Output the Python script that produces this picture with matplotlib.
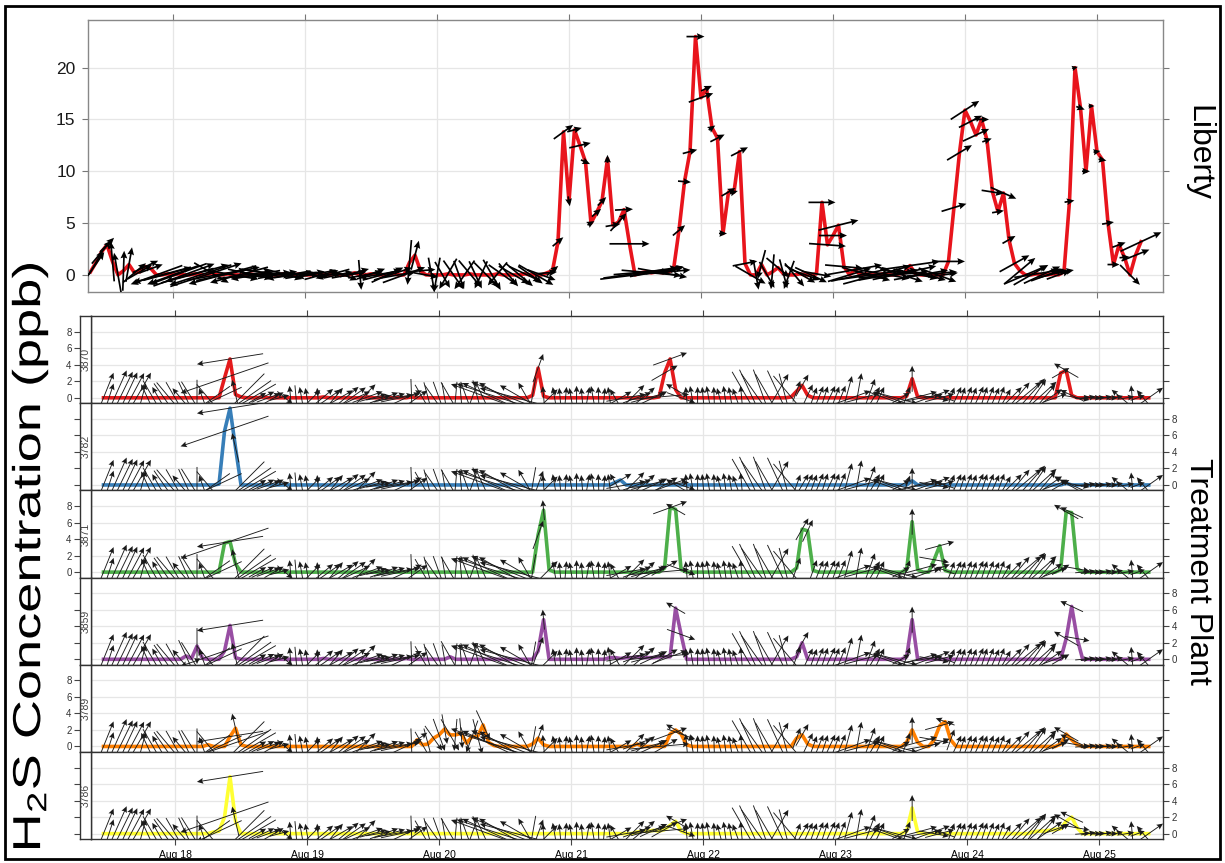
import numpy as np
import matplotlib
matplotlib.use('Agg')
from matplotlib import pyplot as plt
from matplotlib.patches import Rectangle, PathPatch
from matplotlib.textpath import TextPath
from matplotlib.font_manager import FontProperties
from matplotlib.transforms import Affine2D

plt.rcParams['font.family'] = ['Liberation Sans', 'DejaVu Sans']
plt.rcParams['mathtext.fontset'] = 'custom'
plt.rcParams['mathtext.rm'] = 'Liberation Sans'
plt.rcParams['mathtext.it'] = 'Liberation Sans:italic'

W, H = 1225, 863

# hourly records, hour 0 = Aug 17 00:00
day_labels = ['Aug 18', 'Aug 19', 'Aug 20', 'Aug 21', 'Aug 22', 'Aug 23', 'Aug 24', 'Aug 25']

# ---- Liberty monitor (first hour = 9) ----
lib_first_hour = 9
lib_h2s = [0.3, 1.2, 2.2, 2.9, 1.3, 0.0, 0.4, 1.0, 0.2, 0.3, 0.8, 0.6, 0.0, 0.0, 0.1,
           0.0, 0.1, 0.0, 0.0, 0.1, 0.0, 0.0, 0.2, 0.0, 0.0, 0.1, 0.0, 0.0, 0.0, 0.1, 0.0, 0.0, 0.2, 0.0, 0.0, 0.1, 0.0, 0.0, 0.1,
           0.0, 0.0, 0.1, 0.0, 0.0, 0.1, 0.0, 0.0, 0.0, 0.2, 0.0, 0.0, 0.1, 0.0, 0.0, 0.0, 0.1, 0.0, 0.0, 1.2, 1.9, 0.4, 0.0, 0.0,
           0.0, 0.0, 0.1, 0.0, 0.0, 0.0, 0.1, 0.0, 0.0, 0.0, 0.0, 0.1, 0.0, 0.0, 0.0, 0.0, 0.1, 0.0, 0.0, 0.0, 0.2, 0.4, 3.2, 13.8,
           7.1, 14.0, 12.5, 10.9, 5.0, 6.0, 7.1, 11.2, 4.8, 5.1, 6.3, 3.0, 0.0, 0.2, 0.3, 0.2, 0.3, 0.2, 0.3, 0.5, 4.3, 9.0, 11.9, 23.0,
           17.1, 18.0, 14.2, 13.2, 4.0, 8.0, 8.0, 11.9, 1.1, 0.0, 0.0, 1.0, 0.0, 0.3, 0.7, 0.1, 0.0, 0.0, 0.1, 0.0, 0.0, 0.1, 7.0, 2.9,
           3.8, 4.8, 0.8, 0.0, 0.5, 0.0, 0.1, 0.0, 0.0, 0.1, 0.0, 0.0, 0.1, 0.2, 0.9, 0.1, 0.0, 0.0, 0.1, 0.0, 0.0, 1.3, 6.5, 11.8,
           15.9, 14.8, 13.5, 15.0, 13.0, 8.0, 6.1, 7.9, 3.4, 1.1, 0.4, 0.0, 0.0, 0.1, 0.0, 0.0, 0.1, 0.0, 0.3, 7.1, 20.0, 16.1, 10.0, 16.3,
           11.9, 11.1, 5.0, 1.0, 2.9, 1.7, 0.0, 1.9, 3.2]
# direction the wind blows toward (deg, counter-clockwise from east) and speed
lib_dir = [55, 60, 50, 45, 95, 100, 88, 80, 40, 30, 25, 20, 200, 195, 15,
           200, 200, 20, 195, 15, 198, 18, -30, 10, 195, 12, -10, 195, 8, -12, 190, 5, -8, 185, 10, -15, 190, 8, 185,
           10, -5, 190, 15, 5, 195, 12, -20, 10, 15, -85, 10, 20, 190, 15, 25, 18, 10, 20, -95, 75, 5, -10, -80,
           -100, -60, -120, -55, -70, -125, -50, -65, -115, -45, -60, -130, -35, -50, -30, -40, -25, -35, -30, -20, 5, 40, 40, 36,
           -80, 15, 13, -25, 30, 40, 45, 90, 10, 48, 3, 0, 7, 8, 5, -5, 10, -10, 5, 20, 40, -5, 15, 0,
           20, 25, 35, 27, 0, 30, 15, 27, 11, -30, -80, -105, -60, -95, -40, -75, -110, -50, -30, -20, -25, -10, 0, -4,
           0, 14, -5, 17, 10, 12, -15, 8, 15, -10, 10, 5, -18, 12, 8, -12, 10, -15, 5, -20, 8, 0, 17, 31,
           33, 27, 25, 0, 20, -9, 10, -24, 30, 29, 40, 23, 30, 9, 25, 20, 15, 20, 10, 10, 15, -20, 0, 0,
           10, -10, 10, 0, 20, 5, -45, 22, 25]
lib_ws = [4.8, 2.8, 3.0, 2.0, 4.0, 4.5, 4.0, 3.5, 3.0, 2.8, 2.8, 2.5, 5.5, 6.0, 5.0,
          5.5, 6.0, 6.5, 5.0, 7.0, 6.5, 7.5, 4.0, 6.0, 7.0, 6.5, 5.0, 6.0, 5.5, 4.5, 5.0, 6.0, 5.0, 4.5, 4.0, 4.0, 4.5, 4.0, 3.5,
          4.0, 3.5, 4.0, 3.5, 3.0, 3.5, 3.0, 3.0, 3.5, 3.0, 3.0, 3.5, 3.0, 3.5, 4.0, 3.5, 4.0, 3.5, 4.5, 4.5, 3.0, 3.0, 2.5, 3.5,
          3.5, 3.0, 3.5, 3.5, 3.0, 3.5, 3.5, 3.0, 3.0, 3.5, 3.5, 3.0, 3.5, 3.0, 3.5, 3.5, 3.5, 3.0, 4.0, 3.0, 2.0, 1.5, 1.4, 2.4,
          1.0, 1.5, 2.2, 1.0, 0.8, 1.2, 1.2, 0.8, 1.5, 2.4, 1.8, 4.0, 7.0, 7.5, 6.5, 6.0, 5.5, 5.0, 4.5, 2.0, 1.6, 1.3, 1.5, 1.8,
          2.6, 1.2, 0.8, 1.6, 0.8, 1.6, 0.8, 1.9, 2.5, 3.5, 3.0, 3.0, 3.0, 3.5, 3.0, 3.0, 3.0, 3.0, 3.5, 3.0, 3.5, 3.0, 2.7, 3.7,
          2.8, 4.1, 3.8, 4.5, 5.5, 6.0, 5.0, 6.5, 7.0, 5.5, 6.0, 7.0, 5.0, 6.5, 6.0, 4.5, 5.5, 4.0, 5.0, 4.0, 3.0, 3.3, 2.6, 2.9,
          3.4, 2.6, 2.9, 1.5, 1.0, 2.2, 1.2, 2.8, 1.5, 3.4, 4.0, 4.7, 4.0, 4.5, 4.0, 3.5, 3.0, 2.5, 2.0, 1.0, 0.6, 0.9, 0.8, 0.6,
          0.7, 0.8, 1.2, 1.2, 1.4, 1.0, 2.8, 3.0, 4.5]

# ---- Treatment plant monitors (first hour = 11), one shared wind record ----
tp_first_hour = 11
tp_dir = [68, 72, 66, 64, 65, 62, 60, 75, 115, -60, 120, -55, -50,
          -60, 130, -65, -58, -90, 110, -50, 215, 205, 199, 189, 103, 225, 215, 210, 30, 25, 20, 30, 15, -40, 95, -85, 100,
          100, 45, 95, 40, 35, 50, 30, 40, 35, 25, 45, 20, 15, 10, 20, 15, 10, 12, 25, -88, 35, -60, -75, -55,
          -70, -80, -60, -95, -85, -70, -110, -75, -65, 160, 155, 162, 150, 158, 165, 150, 120, -100, 70, 95, 45, 100, 95, 85,
          100, 90, 95, 80, 100, 92, 85, 98, 120, 30, 10, 45, 20, 40, 15, 25, 5, 30, 20, 150, -20, 95, 100, 90,
          95, 100, 92, 105, 98, 100, 110, 95, -60, -65, -55, -70, -60, 60, -65, -75, -50, 70, 60, 65, 70, 68, 72, 65,
          70, 68, 75, 20, 80, 15, 70, 60, 65, -20, 160, -15, 30, 70, 90, 15, 10, 20, -10, 15, 160, 70, 65, 72,
          68, 70, 65, 72, 68, 66, 70, 60, 45, 50, 40, 48, 55, 42, 50, 35, 20, 30, 150, 155, -10, 5, 10, 0,
          5, 10, 0, 15, 140, 10, 95, 20, 130, 35]
tp_ws = [5.4, 3.0, 6.0, 5.8, 5.6, 5.6, 5.8, 3.0, 3.0, 4.0, 2.5, 3.5, 4.0,
         3.6, 2.5, 3.5, 3.8, 3.6, 2.0, 3.5, 4.0, 5.0, 9.3, 6.7, 3.0, 6.6, 6.0, 5.5, 2.0, 2.5, 2.5, 2.2, 2.0, 2.0, 2.4, 2.5, 2.2,
         2.0, 2.2, 2.0, 2.5, 2.8, 2.6, 3.0, 3.4, 3.6, 3.0, 3.8, 3.2, 2.8, 2.5, 3.0, 3.2, 3.6, 4.0, 3.5, 3.6, 2.5, 3.0, 3.2, 3.0,
         3.4, 3.0, 3.6, 3.2, 3.0, 3.4, 3.4, 3.6, 3.2, 8.0, 7.0, 9.0, 6.0, 8.5, 7.5, 5.0, 3.5, 3.6, 3.0, 2.0, 2.4, 2.2, 2.0, 2.2,
         2.0, 2.4, 2.0, 2.2, 2.4, 2.2, 2.0, 2.2, 2.0, 2.5, 4.0, 3.6, 3.0, 3.2, 3.5, 3.0, 6.0, 3.0, 3.6, 2.2, 3.0, 2.2, 2.4, 2.2,
         2.2, 2.4, 2.2, 2.0, 2.4, 2.2, 2.0, 2.4, 6.0, 6.2, 5.8, 6.0, 5.5, 5.5, 6.0, 5.0, 5.5, 2.2, 2.5, 2.4, 2.2, 2.5, 2.4, 2.6,
         2.4, 2.6, 4.5, 4.0, 5.0, 3.5, 4.0, 2.5, 2.4, 4.0, 3.5, 4.5, 2.0, 2.0, 2.6, 4.0, 3.5, 4.5, 3.0, 3.0, 2.0, 2.2, 2.4, 2.2,
         2.4, 2.2, 2.5, 2.3, 2.4, 2.2, 2.4, 2.0, 3.0, 4.0, 5.0, 5.2, 4.5, 4.8, 3.5, 3.0, 2.5, 2.0, 2.8, 2.5, 2.5, 1.5, 1.5, 1.5,
         1.2, 1.5, 1.5, 1.5, 2.5, 1.5, 2.5, 1.5, 2.0, 3.5]

h2s_3870 = [0, 0, 0, 0, 0, 0, 0, 0, 0, 0, 0, 0, 0,
            0, 0, 0, 0, 0, 0, 0, 0, 0, 2.4, 4.7, 0.4, 0.1, 0, 0, 0, 0.1, 0, 0, 0, 0, 0, 0, 0,
            0, 0, 0, 0.1, 0, 0, 0, 0, 0, 0, 0, 0.1, 0, 0, 0, 0, 0, 0, 0, 0.1, 0, 0, 0, 0,
            0, 0, 0, 0, 0, 0, 0, 0, 0, 0, 0, 0, 0, 0, 0, 0, 0, 0.3, 3.6, 0.2, 0, 0, 0, 0,
            0, 0, 0, 0, 0, 0, 0, 0, 0, 0, 0, 0, 0, 0, 0, 0, 0.1, 3.0, 4.7, 1.0, 0, 0, 0, 0,
            0, 0, 0, 0, 0, 0, 0, 0, 0, 0, 0, 0, 0, 0, 0, 0, 0.1, 0.8, 1.5, 0.3, 0, 0, 0, 0,
            0, 0, 0, 0, 0, 0, 0, 0, 0, 0, 0, 0, 0, 0.2, 2.3, 0.1, 0, 0, 0, 0, 0, 0, 0, 0,
            0, 0, 0, 0, 0, 0, 0, 0, 0, 0, 0, 0, 0, 0, 0, 0, 0, 3.0, 3.3, 0.3, 0, 0, 0, 0,
            0, 0, 0, 0, 0, 0, 0, 0, 0, 0]
h2s_3782 = [0, 0, 0, 0, 0, 0, 0, 0, 0, 0, 0, 0, 0,
            0, 0, 0, 0, 0, 0, 0, 0, 0.1, 6.5, 9.3, 4.5, 0, 0, 0, 0, 0, 0, 0, 0, 0, 0, 0, 0,
            0, 0, 0, 0, 0, 0, 0, 0, 0, 0, 0, 0, 0, 0, 0, 0, 0, 0, 0, 0, 0, 0, 0, 0,
            0, 0, 0, 0, 0, 0, 0, 0, 0, 0, 0, 0, 0, 0, 0, 0, 0, 0, 0, 0, 0, 0, 0, 0,
            0, 0, 0, 0, 0, 0, 0, 0, 0.3, 0.6, 0, 0, 0, 0, 0, 0, 0, 0, 0, 0, 0, 0, 0, 0,
            0, 0, 0, 0, 0, 0, 0, 0, 0, 0, 0, 0, 0, 0, 0, 0, 0, 0, 0, 0, 0, 0, 0, 0,
            0, 0, 0, 0, 0, 0, 0, 0, 0, 0, 0, 0, 0, 0, 0.5, 0, 0, 0, 0, 0, 0, 0, 0, 0,
            0, 0, 0, 0, 0, 0, 0, 0, 0, 0, 0, 0, 0, 0, 0, 0, 0, 0, 0.2, 0, 0, 0, 0, 0,
            0, 0, 0, 0, 0, 0, 0, 0, 0, 0]
h2s_3871 = [0, 0, 0, 0, 0, 0, 0, 0, 0, 0, 0, 0, 0,
            0, 0, 0, 0, 0, 0, 0, 0, 0, 3.5, 3.7, 1.0, 0, 0, 0, 0, 0, 0, 0, 0, 0, 0, 0, 0,
            0, 0, 0, 0, 0, 0, 0, 0, 0, 0, 0, 0, 0, 0, 0, 0, 0, 0, 0, 0, 0, 0, 0, 0,
            0, 0, 0, 0, 0, 0, 0, 0, 0, 0, 0, 0, 0, 0, 0, 0, 0, 0, 4.5, 7.5, 0.3, 0, 0, 0,
            0, 0, 0, 0, 0, 0, 0, 0, 0, 0, 0, 0, 0, 0, 0, 0, 0, 0.5, 7.8, 7.6, 0.3, 0, 0, 0,
            0, 0, 0, 0, 0, 0, 0, 0, 0, 0, 0, 0, 0, 0, 0, 0, 0, 0.5, 5.2, 5.0, 0.2, 0, 0, 0,
            0, 0, 0, 0, 0, 0, 0, 0, 0, 0, 0, 0, 0, 0.3, 6.1, 0.3, 0, 0, 1.5, 3.2, 0.2, 0, 0, 0,
            0, 0, 0, 0, 0, 0, 0, 0, 0, 0, 0, 0, 0, 0, 0, 0, 0, 0.3, 7.3, 7.2, 0.4, 0, 0, 0,
            0, 0, 0, 0, 0, 0, 0, 0, 0, 0]
h2s_3859 = [0, 0, 0, 0, 0, 0, 0, 0, 0, 0, 0, 0, 0,
            0, 0, 0.4, 0.1, 1.6, 0.1, 0, 0, 0, 1.0, 4.1, 0.2, 0, 0, 0, 0, 0, 0, 0, 0, 0, 0, 0, 0,
            0, 0, 0, 0.1, 0, 0, 0, 0, 0, 0, 0.1, 0, 0, 0, 0, 0, 0, 0, 0.1, 0, 0, 0, 0, 0,
            0, 0, 0.3, 0, 0, 0, 0, 0, 0, 0, 0, 0, 0, 0, 0, 0, 0, 0, 1.0, 4.8, 0, 0, 0, 0,
            0, 0, 0, 0, 0, 0, 0, 0.2, 0.2, 0.1, 0.2, 0.2, 0.3, 0.2, 0.2, 0.2, 0.3, 0.3, 0.3, 6.2, 3.0, 0, 0, 0,
            0, 0, 0, 0, 0, 0, 0, 0, 0, 0, 0, 0, 0, 0, 0, 0, 0, 0.3, 2.0, 0, 0, 0, 0, 0,
            0, 0, 0, 0, 0, 0, 0, 0, 0, 0, 0, 0, 0, 0.3, 4.8, 0, 0, 0, 0, 0, 0, 0, 0, 0,
            0, 0, 0, 0, 0, 0, 0, 0, 0, 0, 0, 0, 0, 0, 0, 0, 0, 0, 2.5, 6.4, 2.5, 0, 0, 0,
            0, 0, 0, 0, 0, 0, 0, 0, 0, 0]
h2s_3789 = [0, 0, 0, 0, 0, 0, 0, 0, 0, 0, 0, 0, 0,
            0, 0, 0, 0, 0, 0, 0.2, 0, 0, 0, 1.2, 2.2, 0.2, 0, 0, 0, 0, 0, 0, 0, 0, 0, 0, 0,
            0, 0, 0, 0, 0, 0, 0, 0, 0, 0, 0, 0, 0, 0, 0, 0, 0, 0, 0, 0, 0.8, 0.2, 0.3, 1.0,
            1.4, 2.1, 1.4, 1.4, 1.6, 0.4, 1.2, 1.2, 2.6, 0.5, 0.1, 0, 0, 0, 0, 0, 0, 0.3, 1.0, 0.2, 0, 0, 0, 0,
            0, 0, 0, 0, 0, 0, 0, 0, 0, 0, 0, 0, 0.3, 0, 0, 0, 0, 0, 1.5, 2.0, 1.5, 0.2, 0, 0,
            0, 0, 0, 0, 0, 0, 0, 0, 0, 0, 0, 0, 0, 0, 0, 0, 0, 1.0, 1.4, 0.3, 0, 0, 0, 0,
            0, 0, 0, 0, 0, 0, 0, 0, 0, 0, 0, 0, 0, 0.5, 2.0, 0.5, 0, 0, 0.8, 2.5, 3.0, 0.8, 0, 0,
            0, 0, 0, 0, 0, 0, 0, 0, 0, 0, 0, 0, 0, 0, 0, 0, 0, 0.3, 1.5, 0.8, 0.2, 0, 0, 0,
            0, 0, 0, 0, 0, 0, 0, 0, 0, 0]
h2s_3786 = [0, 0, 0, 0, 0, 0, 0, 0, 0, 0, 0, 0, 0,
            0, 0, 0, 0, 0, 0, 0, 0.2, 0.3, 2.0, 6.9, 1.5, 0, 0, 0, 0, 0, 0, 0, 0, 0, 0, 0, 0,
            0, 0, 0, 0, 0, 0, 0, 0, 0, 0, 0, 0, 0, 0, 0, 0, 0, 0, 0, 0, 0, 0, 0, 0,
            0, 0, 0, 0, 0, 0, 0, 0, 0, 0, 0, 0, 0, 0, 0, 0, 0, 0, 0, 0, 0, 0, 0, 0,
            0, 0, 0, 0, 0, 0, 0, 0, 0, 0, 0, 0, 0.2, 0.3, 0.3, 0.4, 0.3, 0.5, 1.0, 1.5, 0.3, 0, 0, 0,
            0, 0, 0, 0, 0, 0, 0, 0, 0, 0, 0, 0, 0, 0, 0, 0, 0, 0, 0, 0, 0, 0, 0, 0,
            0, 0, 0, 0, 0, 0, 0, 0, 0, 0, 0, 0, 0, 0.3, 3.1, 0.2, 0, 0, 0, 0, 0, 0, 0, 0,
            0, 0, 0, 0, 0, 0, 0, 0, 0, 0, 0, 0, 0.2, 0.3, 0.3, 0.4, 0.5, 0.6, 1.5, 2.0, 0.7, 0, 0, 0,
            0, 0, 0, 0, 0, 0, 0, 0, 0, 0]

site_ids = ['3870', '3782', '3871', '3859', '3789', '3786']
site_h2s = [h2s_3870, h2s_3782, h2s_3871, h2s_3859, h2s_3789, h2s_3786]
site_colors = ['#E41A1C', '#377EB8', '#4DAF4A', '#984EA3', '#FF7F00', '#FFFF33']


def box(x0, y0, x1, y1):
    # pixel box (top-left origin) -> figure fraction rect
    return [x0 / W, 1 - y1 / H, (x1 - x0) / W, (y1 - y0) / H]


def wind_uv(direction, speed):
    a = np.radians(np.asarray(direction, dtype=float))
    s = np.asarray(speed, dtype=float)
    return s * np.cos(a), s * np.sin(a)


def stretched_label(fig, text, cx, cy, size_px, length_px, angle):
    # text drawn as a path so it can be stretched along its baseline like the original slide
    path = TextPath((0, 0), text, size=size_px, prop=FontProperties(family='Liberation Sans'))
    bb = path.get_extents()
    tr = (Affine2D().translate(-(bb.x0 + bb.width / 2), -(bb.y0 + bb.height / 2))
          .scale(length_px / bb.width, 1.0).rotate_deg(angle).translate(cx, H - cy))
    fig.add_artist(PathPatch(path, transform=tr, fc='black', ec='none'))


day_ticks = [24 * (i + 1) for i in range(len(day_labels))]
PX_PER_MS = 10.0  # arrow length, pixels per m/s
grid_c = '#E6E6E6'

fig = plt.figure(figsize=(W / 100, H / 100), dpi=100)

# ---------------- Liberty ----------------
ax = fig.add_axes(box(88, 20, 1163, 292))
lib_t = lib_first_hour + np.arange(len(lib_h2s))
ax.plot(lib_t, lib_h2s, color='#E8141C', lw=2.6, zorder=2)
u, v = wind_uv(lib_dir, lib_ws)
ax.quiver(lib_t, lib_h2s, u, v, angles='uv', pivot='middle', scale_units='dots',
          scale=1 / PX_PER_MS, units='dots', width=1.7, headwidth=4, headlength=4.5,
          headaxislength=4, color='black', zorder=3)
ax.set_xlim(8.55, 204)
ax.set_ylim(-1.65, 24.6)
ax.set_xticks(day_ticks)
ax.set_xticklabels([])
ax.set_yticks([0, 5, 10, 15, 20])
ax.tick_params(axis='x', top=True, bottom=True, direction='out', length=4, color='#777777')
ax.tick_params(axis='y', left=True, right=True, labelleft=True, direction='out', length=4,
               color='#777777', labelsize=12.5, labelcolor='#1a1a1a', pad=5)
ax.grid(True, color=grid_c, lw=0.9)
ax.set_axisbelow(True)
for s in ax.spines.values():
    s.set_color('#888888')
    s.set_linewidth(1.0)

# ---------------- Treatment plant ----------------
tp_t = tp_first_hour + np.arange(len(tp_dir))
tu, tv = wind_uv(tp_dir, tp_ws)
panel_top, panel_h = 316, (839 - 316) / 6
for i, (sid, vals, col) in enumerate(zip(site_ids, site_h2s, site_colors)):
    y0 = panel_top + i * panel_h
    y1 = y0 + panel_h
    pax = fig.add_axes(box(91, y0, 1163, y1))
    pax.plot(tp_t, vals, color=col, lw=2.6, zorder=2)
    pax.quiver(tp_t, vals, tu, tv, angles='uv', pivot='middle', scale_units='dots',
               scale=1 / PX_PER_MS, units='dots', width=0.9, headwidth=6.5, headlength=7,
               headaxislength=6, color='#1a1a1a', zorder=3)
    pax.set_xlim(8.73, 203.6)
    pax.set_ylim(-0.65, 9.9)
    pax.set_xticks(day_ticks)
    pax.set_yticks([0, 2, 4, 6, 8])
    pax.tick_params(axis='x', top=(i == 0), bottom=(i == 5), labelbottom=(i == 5),
                    direction='out', length=4, color='#444444', labelsize=7.5, pad=4)
    if i == 5:
        pax.set_xticklabels(day_labels)
    pax.tick_params(axis='y', left=False, right=True, labelleft=False, labelright=(i % 2 == 1),
                    direction='out', length=4, color='#444444', labelsize=7, labelcolor='#333333', pad=2)
    pax.grid(True, color=grid_c, lw=0.9)
    pax.set_axisbelow(True)
    for s in pax.spines.values():
        s.set_color('#333333')
        s.set_linewidth(1.0)

    sax = fig.add_axes(box(80, y0, 91, y1))
    sax.set_xlim(0, 1)
    sax.set_ylim(-0.65, 9.9)
    sax.set_xticks([])
    sax.set_yticks([0, 2, 4, 6, 8])
    sax.tick_params(axis='y', left=True, labelleft=(i % 2 == 0), direction='out', length=4,
                    color='#444444', labelsize=7, labelcolor='#333333', pad=2)
    sax.text(0.5, 0.5, sid, rotation=90, ha='center', va='center', fontsize=7.5,
             color='#444444', transform=sax.transAxes)
    for s in sax.spines.values():
        s.set_color('#333333')
        s.set_linewidth(1.0)

# titles
stretched_label(fig, 'H$_2$S Concentration (ppb)', 30, 556, 39, 584, 90)
fig.text(1198 / W, 1 - 153 / H, 'Liberty', rotation=-90, ha='center', va='center', fontsize=23)
fig.text(1198 / W, 1 - 571 / H, 'Treatment Plant', rotation=-90, ha='center', va='center', fontsize=23)

fig.patches.append(Rectangle((5 / W, 1 - 859 / H), 1215 / W, 853 / H, transform=fig.transFigure,
                             fill=False, lw=2, ec='black'))

fig.savefig('out.png', dpi=100)
